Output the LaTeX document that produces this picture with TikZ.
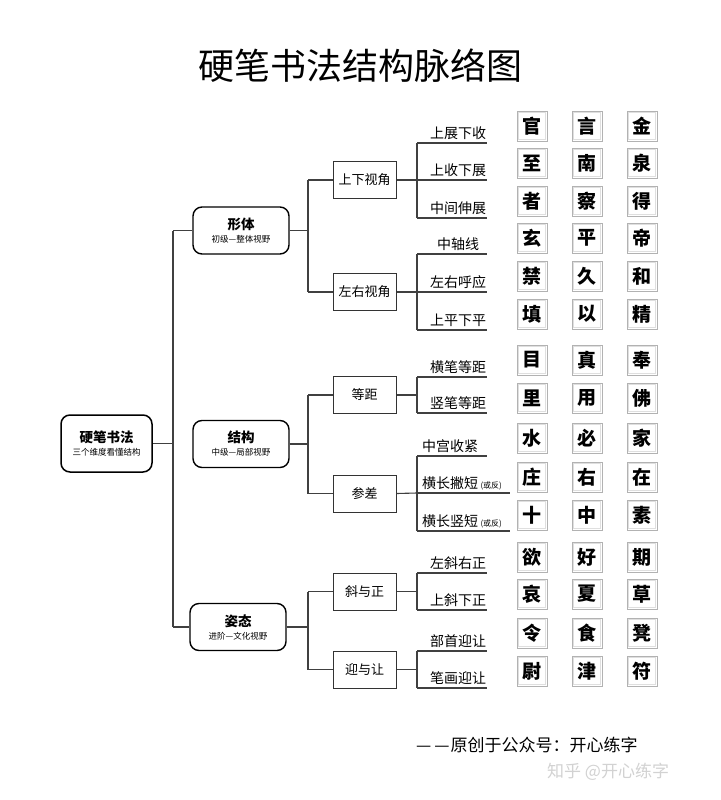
\documentclass[tikz,border=0pt]{standalone}
\usepackage{fontspec}
\newfontfamily\cjk{Noto Sans CJK SC}
\begin{document}
\begin{tikzpicture}[x=1pt,y=-1pt,
  conn/.style={draw=black!75,line width=1.1pt},
  rootbox/.style={draw,line width=1.5pt,rounded corners=9pt,minimum width=91pt,minimum height=57pt,align=center,inner sep=1pt},
  lvtwo/.style={draw,line width=1.4pt,rounded corners=9pt,minimum width=96pt,minimum height=47pt,align=center,inner sep=1pt},
  lvthree/.style={draw=black!80,line width=1pt,minimum width=63pt,minimum height=37pt,font=\cjk\fontsize{13}{15}\selectfont},
  leaf/.style={font=\cjk\fontsize{14}{16}\selectfont,inner sep=0pt},
  charbox/.style={draw=gray!60,line width=1pt,minimum size=30pt,inner sep=0pt,font=\cjk\bfseries\fontsize{19}{20}\selectfont}
]
\useasboundingbox (0,0) rectangle (720,800);
\fill[white] (0,0) rectangle (720,800);

% title
\node[font=\cjk\fontsize{36}{38}\selectfont] (title) at (360,66) {硬笔书法结构脉络图};

% root and level 2
\node[rootbox] (root) at (106.5,443.5) {{\cjk\bfseries\fontsize{13.5}{15}\selectfont 硬笔书法}\\[1pt]{\cjk\fontsize{8.5}{10}\selectfont 三个维度看懂结构}};
\node[lvtwo] (xt) at (241,230.5) {{\cjk\bfseries\fontsize{13.5}{15}\selectfont 形体}\\[1pt]{\cjk\fontsize{8.5}{10}\selectfont 初级—整体视野}};
\node[lvtwo] (jg) at (241,444) {{\cjk\bfseries\fontsize{13.5}{15}\selectfont 结构}\\[1pt]{\cjk\fontsize{8.5}{10}\selectfont 中级—局部视野}};
\node[lvtwo] (zt) at (238,627) {{\cjk\bfseries\fontsize{13.5}{15}\selectfont 姿态}\\[1pt]{\cjk\fontsize{8.5}{10}\selectfont 进阶—文化视野}};

% level 3
\node[lvthree] (sx) at (364.5,180) {上下视角};
\node[lvthree] (zy) at (364.5,292) {左右视角};
\node[lvthree] (dj) at (364.5,395) {等距};
\node[lvthree] (cc) at (364.5,493.5) {参差};
\node[lvthree] (xz) at (364.5,591.5) {斜与正};
\node[lvthree] (yr) at (364.5,669.5) {迎与让};

% trunk coordinates
\coordinate (rt) at (173,230.5);
\coordinate (rb) at (173,627);
\coordinate (t1) at (308,180);
\coordinate (t2) at (308,292);
\coordinate (t3) at (308,395);
\coordinate (t4) at (308,493.5);
\coordinate (t5) at (308,591.5);
\coordinate (t6) at (308,669.5);

\draw[conn] (root.east) -- (root.east -| rt);
\draw[conn] (rt) -- (rb);
\draw[conn] (rt) -- (xt.west);
\draw[conn] (rb) -- (zt.west);
\draw[conn] (xt.east) -- (xt.east -| t1);
\draw[conn] (jg.east) -- (jg.east -| t3);
\draw[conn] (zt.east) -- (zt.east -| t5);
\draw[conn] (t1) -- (t2);
\draw[conn] (t3) -- (t4);
\draw[conn] (t5) -- (t6);
\draw[conn] (t1) -- (sx.west);
\draw[conn] (t2) -- (zy.west);
\draw[conn] (t3) -- (dj.west);
\draw[conn] (t4) -- (cc.west);
\draw[conn] (t5) -- (xz.west);
\draw[conn] (t6) -- (yr.west);

% leaf lines: name/y/end x
\foreach \n/\yy/\xe in {a1/143/487,a2/180/487,a3/218/487,b1/254/487,b2/292/487,b3/330/487,
  c1/377/487,c2/413/487,d1/456/487,d2/493/510,d3/531/510,e1/573/487,e2/610/487,f1/651/487,f2/688/487}{
  \coordinate (\n s) at (417,\yy);
  \coordinate (\n e) at (\xe,\yy);
  \draw[conn] (\n s) -- (\n e);
}
\draw[conn] (a1s) -- (a3s);
\draw[conn] (b1s) -- (b3s);
\draw[conn] (c1s) -- (c2s);
\draw[conn] (d1s) -- (d3s);
\draw[conn] (e1s) -- (e2s);
\draw[conn] (f1s) -- (f2s);
\draw[conn] (sx.east) -- (a2s);
\draw[conn] (zy.east) -- (b2s);
\draw[conn] (dj.east) -- (dj.east -| c1s);
\draw[conn] (cc.east) -- (d2s);
\draw[conn] (xz.east) -- (xz.east -| e1s);
\draw[conn] (yr.east) -- (yr.east -| f1s);

% leaf labels
\node[leaf] (la1) at (458,133) {上展下收};
\node[leaf] (la2) at (458,170) {上收下展};
\node[leaf] (la3) at (458,208) {中间伸展};
\node[leaf] (lb1) at (458,244) {中轴线};
\node[leaf] (lb2) at (458,282) {左右呼应};
\node[leaf] (lb3) at (458,320) {上平下平};
\node[leaf] (lc1) at (458,367) {横笔等距};
\node[leaf] (lc2) at (458,403) {竖笔等距};
\node[leaf,anchor=west] (ld1) at (422,446) {中宫收紧};
\node[leaf,anchor=west] (ld2) at (422,483) {横长撇短\,{\fontsize{8}{9}\selectfont (或反)}};
\node[leaf,anchor=west] (ld3) at (422,521) {横长竖短\,{\fontsize{8}{9}\selectfont (或反)}};
\node[leaf] (le1) at (458,563) {左斜右正};
\node[leaf] (le2) at (458,600) {上斜下正};
\node[leaf] (lf1) at (458,641) {部首迎让};
\node[leaf] (lf2) at (458,678) {笔画迎让};

% character boxes
\foreach \r/\yy/\ca/\cb/\cc in {1/126/官/言/金,2/163/至/南/泉,3/201/者/察/得,4/238/玄/平/帝,5/276/禁/久/和,
  6/314/填/以/精,7/360/目/真/奉,8/398/里/用/佛,9/438/水/必/家,10/477/庄/右/在,11/515/十/中/素,
  12/557/欲/好/期,13/594/哀/夏/草,14/633/令/食/凳,15/671/尉/津/符}{
  \foreach \c/\xx/\ch in {1/532/\ca,2/587/\cb,3/642/\cc}{
    \node[charbox] (k\r-\c) at (\xx,\yy) {\ch};
    \draw[gray!25,line width=0.7pt] ([shift={(2pt,-2pt)}]k\r-\c.north west) rectangle ([shift={(-2pt,2pt)}]k\r-\c.south east);
  }
}

% footer
\node[font=\cjk\fontsize{17}{19}\selectfont,anchor=west,inner sep=0pt] (foot) at (416,745) {—\kern3pt—\kern1pt 原创于公众号：开心练字};
\node[font=\cjk\fontsize{17}{19}\selectfont,text=gray!35,anchor=west,inner sep=0pt] (wm) at (547,772) {知乎 @开心练字};
\end{tikzpicture}
\end{document}
